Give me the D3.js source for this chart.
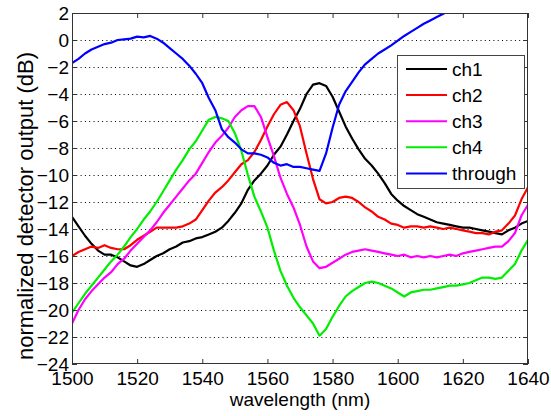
<!DOCTYPE html>
<html>
<head>
<meta charset="utf-8">
<script src="https://cdn.jsdelivr.net/npm/d3@7"></script>
<style>
  body { margin: 0; background: #fff; }
  text { font-family: Arial, "Liberation Sans", sans-serif; fill: #000; }
</style>
</head>
<body>
<svg id="chart" width="551" height="416"></svg>
<script>
// wavelength samples (nm), read every 2 nm off the plot
var wavelength = [1500,1502,1504,1506,1508,1510,1512,1514,1516,1518,
  1520,1522,1524,1526,1528,1530,1532,1534,1536,1538,
  1540,1542,1544,1546,1548,1550,1552,1554,1556,1558,
  1560,1562,1564,1566,1568,1570,1572,1574,1576,1578,
  1580,1582,1584,1586,1588,1590,1592,1594,1596,1598,
  1600,1602,1604,1606,1608,1610,1612,1614,1616,1618,
  1620,1622,1624,1626,1628,1630,1632,1634,1636,1638,1640];

var ch1 = [-13.1,-13.8,-14.5,-15.1,-15.6,-15.9,-15.9,-16.1,-16.4,-16.7,
  -16.8,-16.6,-16.3,-16.0,-15.8,-15.5,-15.3,-15.0,-14.9,-14.7,
  -14.6,-14.4,-14.2,-13.9,-13.4,-12.8,-12.1,-11.1,-10.4,-9.9,
  -9.3,-8.5,-7.9,-7.0,-6.0,-5.1,-4.0,-3.3,-3.2,-3.4,
  -4.2,-5.3,-6.4,-7.3,-8.1,-8.8,-9.3,-9.9,-10.6,-11.4,
  -11.9,-12.3,-12.6,-12.9,-13.1,-13.3,-13.5,-13.6,-13.7,-13.8,
  -13.9,-13.9,-14.0,-14.1,-14.2,-14.3,-14.4,-14.1,-13.9,-13.6,-13.4];

var ch2 = [-16.0,-15.7,-15.5,-15.3,-15.4,-15.2,-15.4,-15.5,-15.5,-15.2,
  -14.8,-14.5,-14.2,-13.9,-13.9,-13.9,-13.9,-13.8,-13.6,-13.3,
  -12.6,-11.9,-11.3,-10.9,-10.4,-9.8,-9.2,-8.9,-8.3,-7.4,
  -6.4,-5.5,-4.8,-4.6,-5.2,-6.4,-8.4,-10.3,-11.8,-12.1,
  -12.0,-11.7,-11.6,-11.7,-12.0,-12.4,-12.7,-13.1,-13.3,-13.6,
  -13.7,-13.9,-13.8,-13.8,-13.9,-13.8,-13.9,-14.0,-13.9,-14.0,
  -14.1,-14.2,-14.3,-14.3,-14.4,-14.2,-14.1,-13.6,-13.0,-11.8,-10.9];

var ch3 = [-21.0,-20.0,-19.2,-18.6,-18.1,-17.6,-17.2,-16.6,-16.2,-15.6,
  -15.1,-14.6,-14.1,-13.5,-12.8,-12.2,-11.6,-11.0,-10.4,-9.9,
  -9.1,-8.3,-7.6,-7.1,-6.5,-5.7,-5.2,-4.9,-4.9,-5.7,
  -7.2,-8.6,-10.2,-11.4,-12.4,-13.7,-15.3,-16.4,-16.9,-16.8,
  -16.5,-16.2,-15.9,-15.7,-15.6,-15.5,-15.6,-15.7,-15.8,-15.9,
  -16.0,-15.9,-16.1,-16.0,-16.1,-16.0,-16.1,-16.0,-15.9,-16.0,
  -15.8,-15.7,-15.6,-15.5,-15.4,-15.3,-15.3,-14.9,-14.3,-13.0,-12.2];

var ch4 = [-20.2,-19.5,-18.8,-18.2,-17.6,-17.0,-16.4,-15.9,-15.3,-14.6,
  -14.0,-13.3,-12.7,-12.0,-11.2,-10.4,-9.6,-8.9,-8.1,-7.5,
  -6.7,-5.9,-5.7,-5.8,-6.0,-6.9,-8.2,-10.0,-11.6,-12.7,
  -13.9,-15.6,-17.1,-18.2,-19.1,-19.8,-20.4,-21.0,-21.9,-21.4,
  -20.5,-19.7,-19.0,-18.6,-18.3,-18.0,-17.9,-18.0,-18.2,-18.4,
  -18.7,-19.0,-18.7,-18.6,-18.5,-18.5,-18.4,-18.3,-18.2,-18.2,
  -18.1,-18.0,-17.8,-17.6,-17.6,-17.7,-17.6,-17.1,-16.6,-15.6,-14.8];

// through port runs off the top of the axes after ~1614 nm
var through = [-1.7,-1.4,-1.0,-0.7,-0.5,-0.3,-0.2,0.0,0.05,0.1,
  0.25,0.2,0.3,0.1,-0.2,-0.6,-1.0,-1.4,-1.9,-2.5,
  -3.2,-4.3,-5.2,-6.6,-7.2,-7.6,-8.1,-8.4,-8.4,-8.5,
  -8.7,-9.1,-9.3,-9.2,-9.4,-9.4,-9.5,-9.6,-9.7,-8.4,
  -6.5,-4.8,-3.8,-3.1,-2.4,-1.8,-1.4,-1.0,-0.7,-0.4,
  -0.05,0.3,0.6,0.9,1.2,1.45,1.7,1.95,2.2,2.5,
  null,null,null,null,null,null,null,null,null,null,null];

var seriesNames = ['ch1', 'ch2', 'ch3', 'ch4', 'through'];
var seriesColors = ['#000000', '#ff0000', '#ff00ff', '#00ee00', '#0000ff'];
var seriesValues = [ch1, ch2, ch3, ch4, through];

var xTicks = [1500, 1520, 1540, 1560, 1580, 1600, 1620, 1640];
var yTicks = [-24, -22, -20, -18, -16, -14, -12, -10, -8, -6, -4, -2, 0, 2];

// plot area edges (window.top is reserved, so no bare "top")
var plotL = 72, plotR = 528, plotT = 13, plotB = 364;

var x = d3.scaleLinear().domain([1500, 1640]).range([plotL, plotR]);
var y = d3.scaleLinear().domain([-24, 2]).range([plotB, plotT]);

var svg = d3.select('#chart');
svg.append('rect').attr('width', 551).attr('height', 416).attr('fill', '#fff');

// dotted horizontal grid
svg.append('g').selectAll('line')
  .data(yTicks.slice(1, -1))
  .enter().append('line')
  .attr('x1', plotL).attr('x2', plotR)
  .attr('y1', function(d) { return Math.round(y(d)) + 0.5; })
  .attr('y2', function(d) { return Math.round(y(d)) + 0.5; })
  .attr('stroke', '#000')
  .attr('stroke-width', 1)
  .attr('stroke-dasharray', '1,3.3');

// curves, clipped to the axes
svg.append('clipPath').attr('id', 'plotclip')
  .append('rect').attr('x', plotL).attr('y', plotT)
  .attr('width', plotR - plotL).attr('height', plotB - plotT);

var line = d3.line()
  .defined(function(d) { return d[1] !== null; })
  .x(function(d) { return x(d[0]); })
  .y(function(d) { return y(d[1]); });

var curves = svg.append('g').attr('clip-path', 'url(#plotclip)');
seriesValues.forEach(function(vals, i) {
  var pts = wavelength.map(function(w, j) { return [w, vals[j]]; });
  curves.append('path')
    .datum(pts)
    .attr('d', line)
    .attr('fill', 'none')
    .attr('stroke', seriesColors[i])
    .attr('stroke-width', 2.2)
    .attr('stroke-linejoin', 'round');
});

// axes with inward ticks on all four sides
var fmt = d3.format('d');
svg.append('g').attr('transform', 'translate(0,' + plotB + ')')
  .call(d3.axisBottom(x).tickValues(xTicks).tickSize(-5).tickPadding(8).tickFormat(fmt));
svg.append('g').attr('transform', 'translate(0,' + plotT + ')')
  .call(d3.axisTop(x).tickValues(xTicks).tickSize(-5).tickFormat(''));
svg.append('g').attr('transform', 'translate(' + plotL + ',0)')
  .call(d3.axisLeft(y).tickValues(yTicks).tickSize(-5).tickPadding(3).tickFormat(fmt));
svg.append('g').attr('transform', 'translate(' + plotR + ',0)')
  .call(d3.axisRight(y).tickValues(yTicks).tickSize(-5).tickFormat(''));

svg.selectAll('.domain').remove();
svg.selectAll('.tick line').attr('stroke', '#333');
svg.selectAll('.tick text').style('font-size', '19px').style('font-family', 'Arial, "Liberation Sans", sans-serif');

svg.append('rect')
  .attr('x', plotL + 0.5).attr('y', plotT + 0.5)
  .attr('width', plotR - plotL - 1).attr('height', plotB - plotT - 1)
  .attr('fill', 'none').attr('stroke', '#333').attr('stroke-width', 1);

// legend
var legend = svg.append('g');
legend.append('rect')
  .attr('x', 397.5).attr('y', 55.5).attr('width', 127).attr('height', 133)
  .attr('fill', '#fff').attr('stroke', '#444').attr('stroke-width', 1);
seriesNames.forEach(function(name, i) {
  var ly = 69 + i * 26.1;
  legend.append('line')
    .attr('x1', 406).attr('x2', 447).attr('y1', ly).attr('y2', ly)
    .attr('stroke', seriesColors[i]).attr('stroke-width', 2);
  legend.append('text')
    .attr('x', 452).attr('y', ly).attr('dy', '0.35em')
    .style('font-size', '19px')
    .text(name);
});

// axis labels
svg.append('text')
  .attr('x', (plotL + plotR) / 2).attr('y', 406)
  .attr('text-anchor', 'middle')
  .style('font-size', '19px')
  .text('wavelength (nm)');

svg.append('text')
  .attr('transform', 'translate(33,206) rotate(-90)')
  .attr('text-anchor', 'middle')
  .style('font-size', '22px')
  .text('normalized detector output (dB)');
</script>
</body>
</html>
